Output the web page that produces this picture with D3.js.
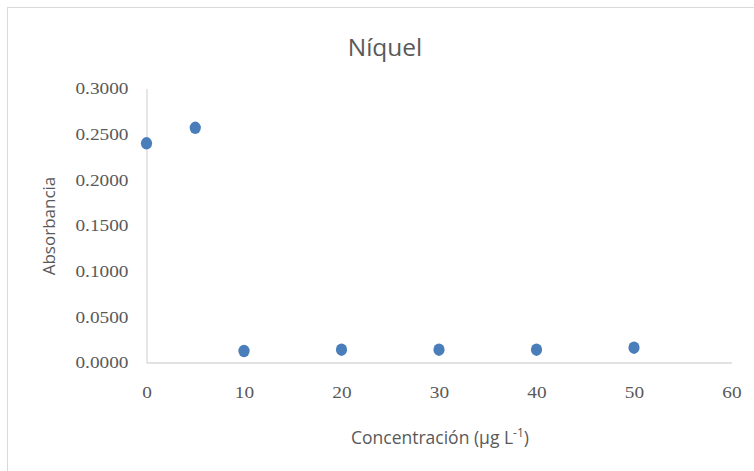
<!DOCTYPE html>
<html>
<head>
<meta charset="utf-8">
<script src="https://cdn.jsdelivr.net/npm/d3@7"></script>
<style>
  html, body { margin: 0; padding: 0; background: #fff; }
  svg { display: block; }
</style>
</head>
<body>
<svg id="chart" width="754" height="471"></svg>
<script>
const concentrations = [0, 5, 10, 20, 30, 40, 50];
const absorbances = [0.2400, 0.2570, 0.0126, 0.0140, 0.0140, 0.0140, 0.0162];
const xTicks = [0, 10, 20, 30, 40, 50, 60];
const yTicks = [0, 0.05, 0.10, 0.15, 0.20, 0.25, 0.30];
const titleText = "Níquel";
const xTitle = "Concentración (µg L";
const yTitle = "Absorbancia";

const svg = d3.select("#chart");
const W = 754, H = 471;
const m = { left: 146.5, right: 731.5, top: 88.5, bottom: 362.5 };

svg.append("rect")
  .attr("x", 7.5).attr("y", 7.5)
  .attr("width", W + 10).attr("height", H + 10)
  .attr("fill", "#fff").attr("stroke", "#d9d9d9").attr("stroke-width", 1);

const x = d3.scaleLinear().domain([0, 60]).range([m.left, m.right]);
const y = d3.scaleLinear().domain([0, 0.3]).range([m.bottom, m.top]);

const axisColor = "#d9d9d9";
const textColor = "#595959";
const tickFont = "'Liberation Serif', serif";
const sansFont = "'Open Sans', sans-serif";

// y axis
const gy = svg.append("g").attr("transform", `translate(${m.left},0)`)
  .call(d3.axisLeft(y).tickValues(yTicks).tickFormat(d3.format(".4f")).tickSize(0).tickPadding(18));
gy.select(".domain").attr("stroke", axisColor).attr("stroke-width", 1.3);
gy.selectAll("text")
  .attr("fill", textColor)
  .style("font-family", tickFont).style("font-size", "16.5px")
  .attr("x", 0)
  .attr("transform", "translate(-18,0) scale(1.17,1)");

// x axis
const gx = svg.append("g").attr("transform", `translate(0,${m.bottom})`)
  .call(d3.axisBottom(x).tickValues(xTicks).tickFormat(d3.format("d")).tickSize(0).tickPadding(24));
gx.select(".domain").attr("stroke", axisColor).attr("stroke-width", 1.3);
gx.selectAll("text")
  .attr("fill", textColor)
  .style("font-family", tickFont).style("font-size", "16.5px")
  .attr("transform", "scale(1.17,1)");

// points
svg.append("g").selectAll("ellipse")
  .data(concentrations.map((c, i) => ({ c, a: absorbances[i] })))
  .join("ellipse")
  .attr("cx", d => x(d.c))
  .attr("cy", d => y(d.a))
  .attr("rx", 5.6).attr("ry", 6.2)
  .attr("fill", "#4a7ebb");

// title
svg.append("text")
  .attr("x", 385).attr("y", 56)
  .attr("text-anchor", "middle")
  .attr("fill", textColor)
  .style("font-family", sansFont)
  .style("font-size", "24.5px")
  .text(titleText);

// x title
const xt = svg.append("text")
  .attr("x", 440).attr("y", 444)
  .attr("text-anchor", "middle")
  .attr("fill", textColor)
  .style("font-family", sansFont)
  .style("font-size", "17.5px");
xt.append("tspan").text(xTitle);
xt.append("tspan").attr("dy", -7).style("font-size", "12px").text("-1");
xt.append("tspan").attr("dy", 7).text(")");

// y title
svg.append("text")
  .attr("transform", `translate(55,${226}) rotate(-90)`)
  .attr("text-anchor", "middle")
  .attr("fill", textColor)
  .style("font-family", sansFont)
  .style("font-size", "17px")
  .text(yTitle);
</script>
</body>
</html>
